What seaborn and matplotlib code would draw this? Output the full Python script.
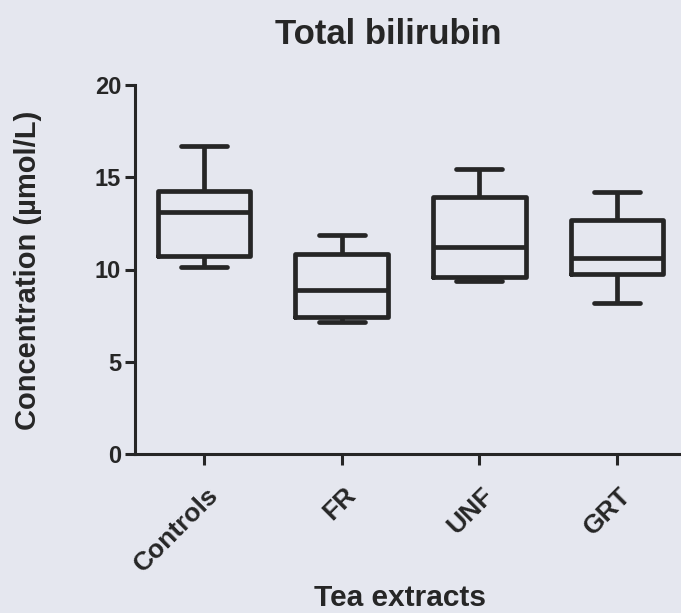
import matplotlib
matplotlib.use("Agg")
import matplotlib.pyplot as plt
import matplotlib.transforms as mtransforms
import seaborn as sns
import pandas as pd

# Five-number summaries (min, Q1, median, Q3, max)
categories = ["Controls", "FR", "UNF", "GRT"]
controls = [10.12, 10.73, 13.10, 14.27, 16.69]
fr = [7.14, 7.41, 8.89, 10.84, 11.87]
unf = [9.39, 9.58, 11.24, 13.95, 15.43]
grt = [8.20, 9.76, 10.61, 12.68, 14.18]
y_ticks = [0, 5, 10, 15, 20]

title = "Total bilirubin"
x_title = "Tea extracts"
y_title = "Concentration (\u00b5mol/L)"

series = [controls, fr, unf, grt]
df = pd.DataFrame({
    "group": [c for c, vals in zip(categories, series) for _ in vals],
    "value": [v for vals in series for v in vals],
})

bg = "#e5e7ef"
ink = "#262626"

sns.set_theme(style="ticks")
plt.rcParams["font.family"] = ["Liberation Sans", "DejaVu Sans"]
plt.rcParams["font.weight"] = "bold"

fig = plt.figure(figsize=(6.81, 6.13), dpi=100, facecolor=bg)
ax = fig.add_axes([135 / 681, (613 - 454) / 613, 551 / 681, (454 - 85) / 613])
ax.set_facecolor(bg)

sns.boxplot(data=df, x="group", y="value", order=categories, fill=False,
            color=ink, saturation=1, linewidth=3.4, width=0.67,
            whis=(0, 100), ax=ax)

ax.set_xlim(-0.5, 3.5)
ax.set_ylim(0, 20)
ax.set_yticks(y_ticks)
ax.set_yticklabels([str(t) for t in y_ticks])
ax.set_xlabel("")
ax.set_ylabel("")

for s in ["top", "right"]:
    ax.spines[s].set_visible(False)
for s in ["left", "bottom"]:
    ax.spines[s].set_linewidth(2.2)
    ax.spines[s].set_color(ink)

ax.tick_params(axis="y", length=7, width=2.2, color=ink, pad=3,
               labelsize=17, labelcolor=ink)
ax.tick_params(axis="x", length=8, width=2.2, color=ink, pad=13,
               labelsize=19, labelcolor=ink)

offset = mtransforms.ScaledTranslation(2 / 100, 0, fig.dpi_scale_trans)
for lab in ax.get_xticklabels():
    lab.set_rotation(45)
    lab.set_ha("right")
    lab.set_va("top")
    lab.set_rotation_mode("anchor")
    lab.set_fontweight("bold")
    lab.set_transform(lab.get_transform() + offset)
for lab in ax.get_yticklabels():
    lab.set_fontweight("bold")

fig.text(388 / 681, (613 - 44) / 613, title, ha="center", va="baseline",
         fontsize=25, fontweight="bold", color=ink)
fig.text(400 / 681, (613 - 606) / 613, x_title, ha="center", va="baseline",
         fontsize=21.5, fontweight="bold", color=ink)
fig.text(28 / 681, (613 - 270) / 613, y_title, ha="center", va="center",
         rotation=90, fontsize=21, fontweight="bold", color=ink)

fig.savefig("out.png", dpi=100, facecolor=bg)
